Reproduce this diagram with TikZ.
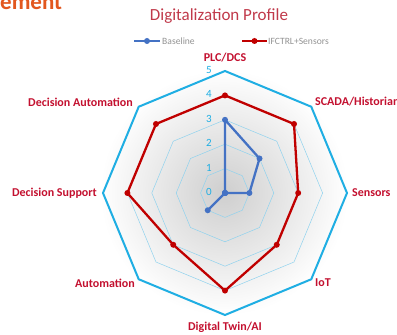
\documentclass[tikz,border=0pt]{standalone}
\usepackage{fontspec}
\setmainfont{Carlito}
\usetikzlibrary{positioning}

\definecolor{serred}{HTML}{C00000}
\definecolor{serblue}{HTML}{4472C4}
\definecolor{rimblue}{HTML}{1FAEE3}
\definecolor{gridblue}{HTML}{8FD2EE}
\definecolor{labred}{HTML}{C3102F}
\definecolor{titlered}{HTML}{C0394A}
\definecolor{headorange}{HTML}{E2571E}

\tikzset{
  axislabel/.style={font=\bfseries\fontsize{12}{14}\selectfont, text=labred, inner sep=0},
  ticklabel/.style={font=\fontsize{11}{13}\selectfont, text=rimblue, inner sep=0},
  legendtext/.style={font=\fontsize{9.6}{11}\selectfont, text=gray!85, inner sep=0, anchor=west},
  dot/.style={circle, fill=#1, minimum size=6pt, inner sep=0},
  series/.style={line width=2.3pt, draw=#1, line join=round},
  ring/.style={draw=gridblue, line width=0.5pt},
  rim/.style={draw=rimblue, line width=2pt, line join=miter}
}

\begin{document}
\begin{tikzpicture}[x=1pt, y=1pt]
\useasboundingbox (0,0) rectangle (397,335);
\def\u{24.4}

% slide heading, cut by the top edge
\begin{scope}
\clip (0,0) rectangle (397,335);
\node[anchor=base west, inner sep=0, text=headorange,
      font=\bfseries\fontsize{23}{24}\selectfont] (head) at (0,325.5) {ement};
\end{scope}

% title and legend
\node[font=\fontsize{17}{19}\selectfont, text=titlered] (title) at (219,319) {Digitalization Profile};
\coordinate (lb1) at (134,294);
\coordinate (lb2) at (160,294);
\draw[series=serblue, line width=2pt] (lb1) -- (lb2);
\node[dot=serblue] (lbdot) at (147,294) {};
\node[legendtext] (lbtext) at (162,294) {Baseline};
\coordinate (lr1) at (242,294);
\coordinate (lr2) at (267,294);
\draw[series=serred, line width=2pt] (lr1) -- (lr2);
\node[dot=serred] (lrdot) at (254.5,294) {};
\node[legendtext] (lrtext) at (268,294) {IFCTRL+Sensors};

% plot area
\fill[inner color=gray!38, outer color=white] (100,20) rectangle (348,265);

\begin{scope}[shift={(225,142)}]
% grid rings
\foreach \lvl in {1,...,4}
  \draw[ring] (90:\lvl*\u) \foreach \a in {45,0,...,-270} { -- (\a:\lvl*\u) } -- cycle;
\draw[rim] (90:5*\u) \foreach \a in {45,0,...,-270} { -- (\a:5*\u) } -- cycle;

% tick labels
\foreach \lvl in {0,...,5}
  \node[ticklabel] (t\lvl) at (-16,\lvl*\u+1) {\lvl};

% IFCTRL+Sensors
\foreach \v [count=\i] in {4,4,3,3,4,3,4,4}
  \coordinate (r\i) at ({135-45*\i}:{\v*\u});
\draw[series=serred] (r1) -- (r2) -- (r3) -- (r4) -- (r5) -- (r6) -- (r7) -- (r8) -- cycle;
\foreach \i in {1,...,8}
  \node[dot=serred] at (r\i) {};

% Baseline
\foreach \v [count=\i] in {3,2,1,0,0,1,0,0}
  \coordinate (b\i) at ({135-45*\i}:{\v*\u});
\draw[series=serblue] (b1) -- (b2) -- (b3) -- (b4) -- (b5) -- (b6) -- (b7) -- (b8) -- cycle;
\foreach \i in {1,...,8}
  \node[dot=serblue] at (b\i) {};
\end{scope}

% axis labels
\node[axislabel] (plc) at (225,277) {PLC/DCS};
\node[axislabel, anchor=west] (scada) at (315,233) {SCADA/Historian};
\node[axislabel, anchor=west] (sens) at (352,142) {Sensors};
\node[axislabel, anchor=west] (iot) at (315,52) {IoT};
\node[axislabel] (twin) at (225,8) {Digital Twin/AI};
\node[axislabel, anchor=east] (auto) at (135,52) {Automation};
\node[axislabel, anchor=east] (dsup) at (97,142) {Decision Support};
\node[axislabel, anchor=east] (daut) at (133,233) {Decision Automation};
\end{tikzpicture}
\end{document}
